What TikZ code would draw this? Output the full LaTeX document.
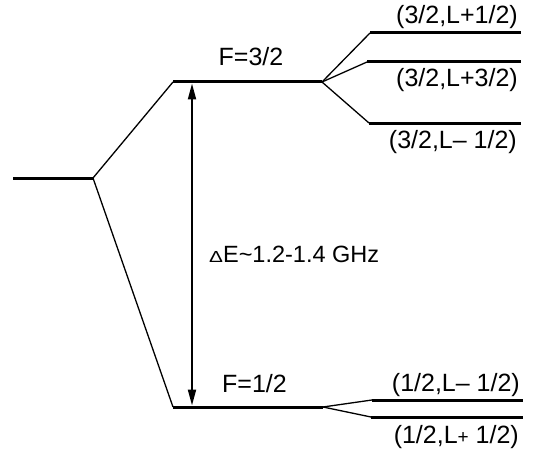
\documentclass[tikz,border=0pt]{standalone}
\usepackage{fontspec}
\setmainfont{Liberation Sans}
\usetikzlibrary{arrows.meta}
\begin{document}
\begin{tikzpicture}[x=1pt,y=1pt,
  level/.style={line width=3pt},
  link/.style={line width=1.3pt},
  lbl/.style={font=\fontsize{25}{30}\selectfont, inner sep=0pt},
  gap/.style={line width=2pt, {Triangle[length=16pt,width=8pt]}-{Triangle[length=16pt,width=8pt]}},
  ]
\useasboundingbox (0,0) rectangle (537,456);
% ground level
\coordinate (g1) at (13,278);
\coordinate (g2) at (93,278);
% F=3/2
\coordinate (a1) at (173,374);
\coordinate (a2) at (322,374);
% F=1/2
\coordinate (b1) at (173,49);
\coordinate (b2) at (323,49);
% sublevels of F=3/2
\coordinate (s1l) at (370,423); \coordinate (s1r) at (521,423);
\coordinate (s2l) at (367,394); \coordinate (s2r) at (521,394);
\coordinate (s3l) at (369,333); \coordinate (s3r) at (521,333);
% sublevels of F=1/2
\coordinate (t1l) at (372,56); \coordinate (t1r) at (523,56);
\coordinate (t2l) at (371,39); \coordinate (t2r) at (523,39);
% arrow ends
\coordinate (up) at (192,372.5);
\coordinate (dn) at (192,50.5);

\draw[level] (g1) -- (g2);
\draw[level] (a1) -- (a2);
\draw[level] (b1) -- (b2);
\draw[level] (s1l) -- (s1r);
\draw[level] (s2l) -- (s2r);
\draw[level] (s3l) -- (s3r);
\draw[level] (t1l) -- (t1r);
\draw[level] (t2l) -- (t2r);

\draw[link] (g2) -- (a1);
\draw[link] (g2) -- (b1);
\draw[link] (a2) -- (s1l);
\draw[link] (a2) -- (s2l);
\draw[link] (a2) -- (s3l);
\draw[link] (b2) -- (t1l);
\draw[link] (b2) -- (t2l);

\draw[gap] (dn) -- (up);

\node[lbl, anchor=base] (fa) at (251,390.5) {F=3/2};
\node[lbl, anchor=base west] (fb) at (222,63.5) {F=1/2};
\node[lbl, anchor=base east] (l1) at (518,432) {(3/2,L+1/2)};
\node[lbl, anchor=base east] (l2) at (518,369.5) {(3/2,L+3/2)};
\node[lbl, anchor=base east] (l3) at (517,307.5) {(3/2,L– 1/2)};
\node[lbl, anchor=base east] (l4) at (520,65) {(1/2,L– 1/2)};
\node[lbl, anchor=base east] (l5) at (519,13) {(1/2,L{\fontsize{19}{20}\selectfont+} 1/2)};
\node[lbl, anchor=base west, font=\fontsize{23.5}{28}\selectfont] (de) at (209,194) {{\fontsize{16}{17}\selectfont\scalebox{1.3}[1]{Δ}}E\textasciitilde 1.2-1.4 GHz};
\end{tikzpicture}
\end{document}
